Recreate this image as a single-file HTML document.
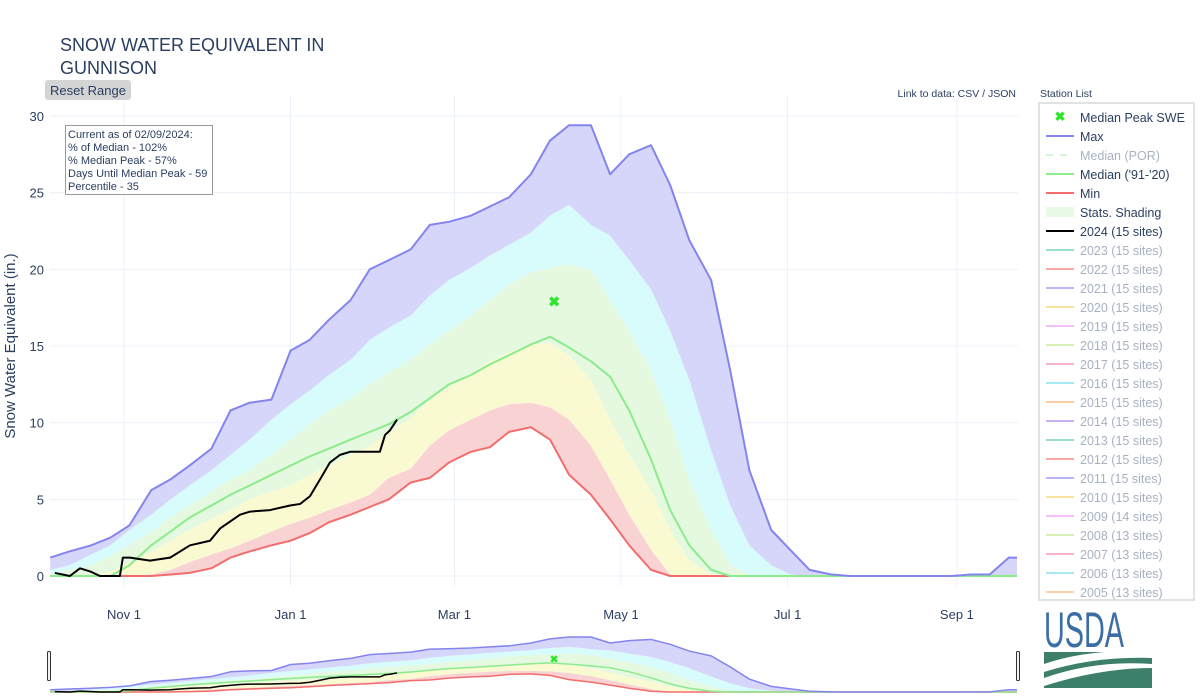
<!DOCTYPE html>
<html><head><meta charset="utf-8"><style>
body{margin:0;background:#fff;font-family:"Liberation Sans",sans-serif;}
#wrap{position:relative;width:1200px;height:700px;overflow:hidden;}
svg text{font-family:"Liberation Sans",sans-serif;}
</style></head><body><div id="wrap">
<svg id="chart" width="1200" height="700"></svg>
</div>
<script>
// day offsets since Oct 1 2023 for statistic series
const days = [4,11,19,26,33,41,48,55,63,70,77,85,92,99,106,114,121,128,136,143,150,158,165,172,180,187,194,202,209,216,224,231,238,246,253,260,268,275,282,290,297,304,312,319,326,334,341,348,355,358];
const maxVals = [1.2,1.6,2.0,2.5,3.3,5.6,6.3,7.2,8.3,10.8,11.3,11.5,14.7,15.4,16.7,18.0,20.0,20.6,21.3,22.9,23.1,23.5,24.1,24.7,26.2,28.4,29.4,29.4,26.2,27.5,28.1,25.5,21.9,19.3,13.4,6.9,3.0,1.7,0.4,0.1,0,0,0,0,0,0,0.1,0.1,1.2,1.2];
const p90Vals = [0.4,0.7,1.4,2.0,3.0,4.0,5.0,5.9,6.9,7.9,8.9,10.2,11.2,12.1,13.1,14.1,15.4,16.2,17.0,18.3,19.3,20.1,20.9,21.6,22.4,23.5,24.2,22.9,22.2,20.6,18.7,16.0,12.8,8.2,4.6,2.0,0.7,0.1,0,0,0,0,0,0,0,0,0,0,0,0];
const p70Vals = [0.1,0.4,0.7,1.3,2.0,2.9,3.8,4.6,5.5,6.3,6.9,7.9,8.9,9.9,10.8,11.6,12.5,13.3,14.1,15.1,16.0,17.0,18.0,19.0,19.8,20.1,20.3,20.0,18.0,16.0,13.4,10.2,6.3,3.0,0.7,0.1,0,0,0,0,0,0,0,0,0,0,0,0,0,0];
const medianVals = [0,0,0,0,0.7,2.0,2.9,3.8,4.6,5.3,5.9,6.6,7.2,7.8,8.3,8.9,9.4,9.9,10.7,11.6,12.5,13.1,13.8,14.4,15.1,15.6,14.9,14.0,13.0,10.8,7.6,4.3,2.0,0.4,0,0,0,0,0,0,0,0,0,0,0,0,0,0,0,0];
const p30Vals = [0,0,0,0.3,0.9,1.6,2.3,3.0,3.7,4.3,5.0,5.5,5.9,6.6,7.2,7.9,8.5,9.4,10.3,11.5,12.3,13.1,14.0,14.6,15.1,15.2,14.4,12.8,10.2,7.9,5.6,3.0,1.0,0.1,0,0,0,0,0,0,0,0,0,0,0,0,0,0,0,0];
const p10Vals = [0,0,0,0,0,0.1,0.4,0.9,1.4,1.8,2.3,2.9,3.4,3.8,4.3,4.8,5.3,6.4,7.0,8.5,9.5,10.2,10.8,11.2,11.3,11.0,10.2,8.5,6.3,4.0,1.7,0.1,0,0,0,0,0,0,0,0,0,0,0,0,0,0,0,0,0,0];
const minVals = [0,0,0,0,0,0,0.1,0.2,0.5,1.2,1.6,2.0,2.3,2.8,3.5,4.0,4.5,5.0,6.1,6.4,7.4,8.1,8.4,9.4,9.7,8.9,6.6,5.3,3.7,2.0,0.4,0,0,0,0,0,0,0,0,0,0,0,0,0,0,0,0,0,0,0];
// water year 2024
const days2024 = [5.7,11.2,14.9,18.6,22.2,29.5,30.6,33.2,40.5,47.9,55.2,62.5,66.2,73.5,77.2,84.5,91.8,95.5,99.1,102.8,106.4,110.1,113.8,124.7,126.6,128.4,131];
const vals2024 = [0.2,0,0.5,0.3,0,0,1.2,1.2,1.0,1.2,2.0,2.3,3.1,4.0,4.2,4.3,4.6,4.7,5.2,6.3,7.4,7.9,8.1,8.1,9.2,9.5,10.2];
const peakDay = [188.5];
const peakVal = [17.9];
const xTickDays = [31,92,152,213,274,336];
const xTickLabels = ["Nov  1","Jan  1","Mar  1","May  1","Jul  1","Sep  1"];
const yTicks = [0,5,10,15,20,25,30];

const NS="http://www.w3.org/2000/svg";
const svg=document.getElementById('chart');
const L=50,R=1018,T=116,B=576;
const xs=d=>39.3+2.731*d;
const ys=v=>B-(B-T)/30*v;
const ym=v=>692-1.87*v;
function el(tag,attrs,parent){const e=document.createElementNS(NS,tag);for(const k in attrs)e.setAttribute(k,attrs[k]);(parent||svg).appendChild(e);return e;}
const defs=el('defs',{});
const cp=el('clipPath',{id:'clip'},defs);el('rect',{x:L,y:T-20,width:R-L,height:B-T+22},cp);
const cp2=el('clipPath',{id:'clip2'},defs);el('rect',{x:L,y:630,width:R-L,height:64},cp2);

// grid
yTicks.forEach(v=>{
  const g=el('line',{x1:L,x2:R,y1:ys(v),y2:ys(v),stroke:'#ebf0f8','stroke-width':1});
  
  
  const t=el('text',{x:44,y:ys(v)+5,'text-anchor':'end','font-size':13,fill:'#2a3f5f'});
  t.textContent=v;
  
  
});
xTickDays.forEach((d,i)=>{
  const g=el('line',{x1:xs(d),x2:xs(d),y1:T-20,y2:B+10,stroke:'#ebf0f8','stroke-width':1});
  
  
  const t=el('text',{x:xs(d),y:619,'text-anchor':'middle','font-size':13,fill:'#2a3f5f','xml:space':'preserve'});
  t.textContent=xTickLabels[i];
  
  
});

function drawSeries(g,yf,lw){
  const bands=[[minVals,p10Vals,'#f9d3d3'],[p10Vals,p30Vals,'#fafad2'],[p30Vals,p70Vals,'#e5f9e0'],[p70Vals,p90Vals,'#d8fbfb'],[p90Vals,maxVals,'#d6d6fa']];
  bands.forEach(([lo,hi,c])=>{
    let pts=days.map((d,i)=>xs(d)+','+yf(hi[i]));
    for(let i=days.length-1;i>=0;i--)pts.push(xs(days[i])+','+yf(lo[i]));
    const p=el('polygon',{points:pts.join(' '),fill:c,stroke:'none'},g);
    
    
  });
  const line=(dd,vv,c,w,name)=>{
    const p=el('polyline',{points:dd.map((d,i)=>xs(d)+','+yf(vv[i])).join(' '),fill:'none',stroke:c,'stroke-width':w,'stroke-linejoin':'round'},g);
    
    
  };
  line(days,minVals,'#f26d6d',lw,'min-line');
  line(days,medianVals,'#8ceb8c',lw,'median-line');
  line(days,maxVals,'#8484ee',lw,'max-line');
  line(days2024,vals2024,'#000',lw,'wy2024-line');
}
const gMain=el('g',{'clip-path':'url(#clip)'});


drawSeries(gMain,ys,2);
peakDay.forEach((d,i)=>{
  const t=el('text',{x:xs(d),y:ys(peakVal[i])+5,'text-anchor':'middle','font-size':14,'font-weight':'bold',fill:'#2ee62e'});
  t.textContent='✖';
  
  
});
// range slider
const gMini=el('g',{'clip-path':'url(#clip2)'});


drawSeries(gMini,ym,1.5);
peakDay.forEach((d,i)=>{
  const t=el('text',{x:xs(d),y:ym(peakVal[i])+4,'text-anchor':'middle','font-size':10,'font-weight':'bold',fill:'#2ee62e'});
  t.textContent='✖';
  
  
});
</script>
<svg style="position:absolute;left:0;top:0" width="1200" height="700">
  <text x="60" y="51" font-size="18" fill="#2a3f5f">SNOW WATER EQUIVALENT IN</text>
  <text x="60" y="74" font-size="18" fill="#2a3f5f">GUNNISON</text>
  <g>
    <rect x="45" y="80" width="86" height="20" rx="3" fill="#d4d4d4"/>
    <text x="88" y="95" font-size="13" text-anchor="middle" fill="#2a3f5f">Reset Range</text>
  </g>
  <text x="1016" y="97" font-size="10.5" text-anchor="end" fill="#2a3f5f">Link to data: CSV / JSON</text>
  <text x="1040" y="97" font-size="10.5" fill="#2a3f5f">Station List</text>
  <text transform="translate(15,346) rotate(-90)" font-size="15" text-anchor="middle" fill="#2a3f5f">Snow Water Equivalent (in.)</text>
  <g font-size="11" fill="#2a3f5f">
    <rect x="65.5" y="125.5" width="147" height="69" fill="#fff" stroke="#999"/>
    <text x="68" y="138">Current as of 02/09/2024:</text>
    <text x="68" y="151">% of Median - 102%</text>
    <text x="68" y="164">% Median Peak - 57%</text>
    <text x="68" y="177">Days Until Median Peak - 59</text>
    <text x="68" y="190">Percentile - 35</text>
  </g>
  <g>
    <rect x="47.5" y="651.5" width="3" height="29" rx="1" fill="#f2f2f2" stroke="#333"/>
    <rect x="1016.5" y="651.5" width="3" height="29" rx="1" fill="#f2f2f2" stroke="#333"/>
  </g>
  <g font-size="12.5">
    <rect x="1039" y="103" width="155" height="497" fill="#fff" stroke="#e2e2e2" stroke-width="2"/>
    <text x="1060" y="121" text-anchor="middle" font-size="13" font-weight="bold" fill="#2ee62e">✖</text><text x="1080" y="122" fill="#2a3f5f">Median Peak SWE</text>
    <line x1="1046" x2="1074" y1="136" y2="136" stroke="#8484ee" stroke-width="2"/><text x="1080" y="141" fill="#2a3f5f">Max</text>
    <line x1="1046" x2="1074" y1="155" y2="155" stroke="#d5f5d5" stroke-width="2" stroke-dasharray="7,7"/><text x="1080" y="160" fill="#a8b1c2">Median (POR)</text>
    <line x1="1046" x2="1074" y1="174" y2="174" stroke="#8ceb8c" stroke-width="2"/><text x="1080" y="179" fill="#2a3f5f">Median ('91-'20)</text>
    <line x1="1046" x2="1074" y1="193" y2="193" stroke="#f26d6d" stroke-width="2"/><text x="1080" y="198" fill="#2a3f5f">Min</text>
    <rect x="1046" y="207" width="28" height="10" fill="#e8fae6"/><text x="1080" y="217" fill="#2a3f5f">Stats. Shading</text>
    <line x1="1046" x2="1074" y1="231" y2="231" stroke="#000" stroke-width="2"/><text x="1080" y="236" fill="#2a3f5f">2024 (15 sites)</text>
    <g fill="#a8b1c2" stroke-width="2">
    <line x1="1046" x2="1074" y1="250" y2="250" stroke="#9be0c9"/><text x="1080" y="255">2023 (15 sites)</text>
    <line x1="1046" x2="1074" y1="269" y2="269" stroke="#f9a9a0"/><text x="1080" y="274">2022 (15 sites)</text>
    <line x1="1046" x2="1074" y1="288" y2="288" stroke="#b8b6f6"/><text x="1080" y="293">2021 (15 sites)</text>
    <line x1="1046" x2="1074" y1="307" y2="307" stroke="#fde3a0"/><text x="1080" y="312">2020 (15 sites)</text>
    <line x1="1046" x2="1074" y1="326" y2="326" stroke="#f7c1f5"/><text x="1080" y="331">2019 (15 sites)</text>
    <line x1="1046" x2="1074" y1="345" y2="345" stroke="#d9f1b8"/><text x="1080" y="350">2018 (15 sites)</text>
    <line x1="1046" x2="1074" y1="364" y2="364" stroke="#f9b5c8"/><text x="1080" y="369">2017 (15 sites)</text>
    <line x1="1046" x2="1074" y1="383" y2="383" stroke="#a6e9f4"/><text x="1080" y="388">2016 (15 sites)</text>
    <line x1="1046" x2="1074" y1="402" y2="402" stroke="#fcd0a4"/><text x="1080" y="407">2015 (15 sites)</text>
    <line x1="1046" x2="1074" y1="421" y2="421" stroke="#c9b0f5"/><text x="1080" y="426">2014 (15 sites)</text>
    <line x1="1046" x2="1074" y1="440" y2="440" stroke="#9be0c9"/><text x="1080" y="445">2013 (15 sites)</text>
    <line x1="1046" x2="1074" y1="459" y2="459" stroke="#f9a9a0"/><text x="1080" y="464">2012 (15 sites)</text>
    <line x1="1046" x2="1074" y1="478" y2="478" stroke="#b8b6f6"/><text x="1080" y="483">2011 (15 sites)</text>
    <line x1="1046" x2="1074" y1="497" y2="497" stroke="#fde3a0"/><text x="1080" y="502">2010 (15 sites)</text>
    <line x1="1046" x2="1074" y1="516" y2="516" stroke="#f7c1f5"/><text x="1080" y="521">2009 (14 sites)</text>
    <line x1="1046" x2="1074" y1="535" y2="535" stroke="#d9f1b8"/><text x="1080" y="540">2008 (13 sites)</text>
    <line x1="1046" x2="1074" y1="554" y2="554" stroke="#f9b5c8"/><text x="1080" y="559">2007 (13 sites)</text>
    <line x1="1046" x2="1074" y1="573" y2="573" stroke="#a6e9f4"/><text x="1080" y="578">2006 (13 sites)</text>
    <line x1="1046" x2="1074" y1="592" y2="592" stroke="#fcd0a4"/><text x="1080" y="597">2005 (13 sites)</text>
    </g>
  </g>
  <g>
    <text x="0" y="0" transform="translate(1044,647) scale(0.72,1.25)" font-size="40" fill="#3b6ea5">USDA</text>
    <rect x="1044" y="652" width="108" height="36" fill="#3d7f6b"/>
    <path d="M1044,664 Q1090,648 1152,652 L1152,658 Q1095,656 1044,672 Z" fill="#fff"/>
    <path d="M1044,678 Q1095,660 1152,664 L1152,668 Q1100,668 1044,686 Z" fill="#fff"/>
  </g>
</svg>
</body></html>
